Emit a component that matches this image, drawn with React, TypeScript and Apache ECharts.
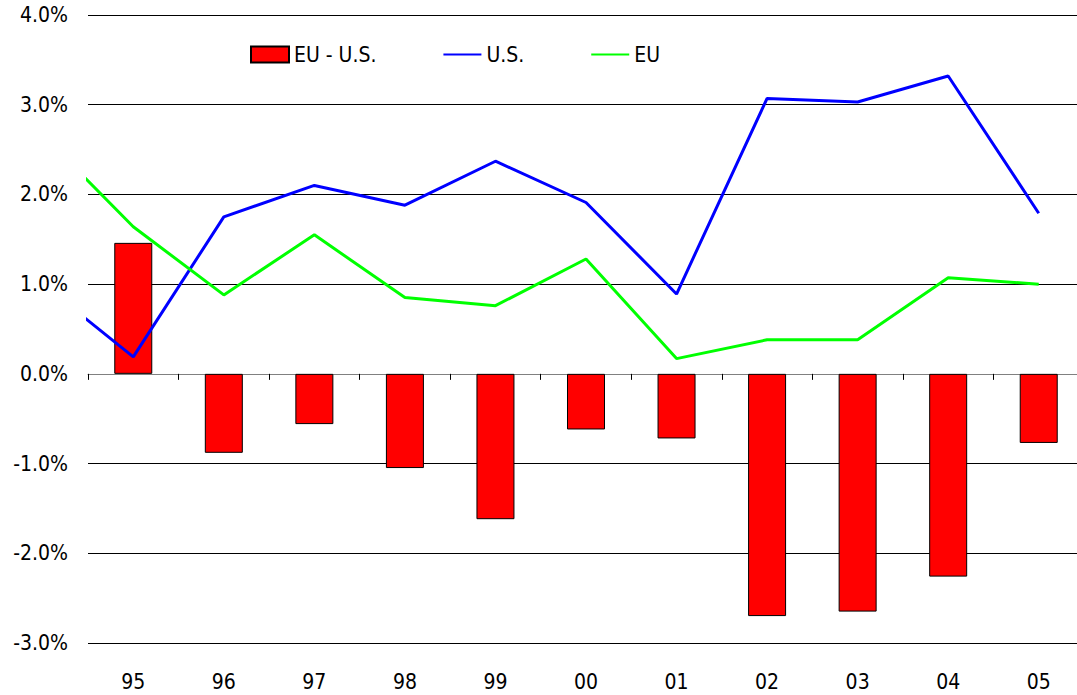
import React, { useEffect, useRef } from "react";
import * as echarts from "echarts";

const years = ["95", "96", "97", "98", "99", "00", "01", "02", "03", "04", "05"];
const diffEuUs = [1.46, -0.88, -0.56, -1.05, -1.62, -0.62, -0.72, -2.7, -2.65, -2.26, -0.77];
// line series start one year earlier (1994), that point lies left of the plot and is clipped
const lineYears = ["94", ...years];
const usValues = [1.0, 0.19, 1.75, 2.1, 1.88, 2.37, 1.91, 0.89, 3.07, 3.03, 3.32, 1.79];
const euValues = [2.66, 1.64, 0.88, 1.55, 0.85, 0.76, 1.28, 0.17, 0.38, 0.38, 1.07, 1.0];
const yMin = -3;
const yMax = 4;
const yStep = 1;

const FONT = "'DejaVu Sans Condensed', 'DejaVu Sans', sans-serif";

export default function App() {
  const ref = useRef<HTMLDivElement>(null);
  useEffect(() => {
    if (!ref.current) return;
    const chart = echarts.init(ref.current, undefined, { renderer: "svg" });
    const toXY = (vals: number[]) => vals.map((v, i) => [i - (lineYears.length - years.length), v]);
    chart.setOption({
      animation: false,
      backgroundColor: "#ffffff",
      textStyle: { fontFamily: FONT },
      grid: { left: 88, right: -7, top: 15, bottom: 52, containLabel: false, outerBoundsMode: "none" },
      legend: {
        left: 245,
        top: 39,
        itemWidth: 38,
        itemHeight: 16,
        itemGap: 66,
        textStyle: { fontFamily: FONT, fontSize: 21, color: "#000" },
        data: [
          { name: "EU - U.S.", icon: "rect" },
          { name: "U.S.", itemStyle: { opacity: 0 } },
          { name: "EU", itemStyle: { opacity: 0 } },
        ],
      },
      xAxis: [
        {
          type: "category",
          data: years,
          position: "bottom",
          axisLine: { show: false, onZero: false },
          axisTick: { show: false },
          axisLabel: { margin: 28, fontSize: 21, color: "#000", fontFamily: FONT },
          splitLine: { show: false },
        },
        {
          type: "category",
          data: years,
          position: "top",
          axisLine: { show: true, onZero: true, lineStyle: { color: "#808080", width: 1 } },
          axisTick: { show: true, inside: true, length: 6, lineStyle: { color: "#000", width: 1 } },
          axisLabel: { show: false },
          splitLine: { show: false },
        },
        {
          type: "value",
          min: -0.5,
          max: years.length - 0.5,
          show: false,
        },
      ],
      yAxis: {
        type: "value",
        min: yMin,
        max: yMax,
        interval: yStep,
        axisLine: { show: false },
        axisTick: { show: false },
        axisLabel: {
          margin: 20,
          fontSize: 21,
          color: "#000",
          fontFamily: FONT,
          formatter: (v: number) => v.toFixed(1) + "%",
        },
        splitLine: { show: true, lineStyle: { color: "#000", width: 1 } },
      },
      series: [
        {
          name: "EU - U.S.",
          type: "bar",
          xAxisIndex: 0,
          data: diffEuUs,
          barWidth: 38,
          itemStyle: { color: "#ff0000", borderColor: "#000", borderWidth: 1 },
        },
        {
          name: "U.S.",
          type: "line",
          xAxisIndex: 2,
          data: toXY(usValues),
          symbol: "none",
          color: "#0000ff",
          lineStyle: { color: "#0000ff", width: 3 },
          clip: true,
        },
        {
          name: "EU",
          type: "line",
          xAxisIndex: 2,
          data: toXY(euValues),
          symbol: "none",
          color: "#00ff00",
          lineStyle: { color: "#00ff00", width: 3 },
          clip: true,
        },
      ],
    });
    return () => chart.dispose();
  }, []);
  return (
    <div
      ref={ref}
      style={{ position: "fixed", left: 0, top: 0, width: 1077, height: 695, background: "#fff" }}
    />
  );
}
